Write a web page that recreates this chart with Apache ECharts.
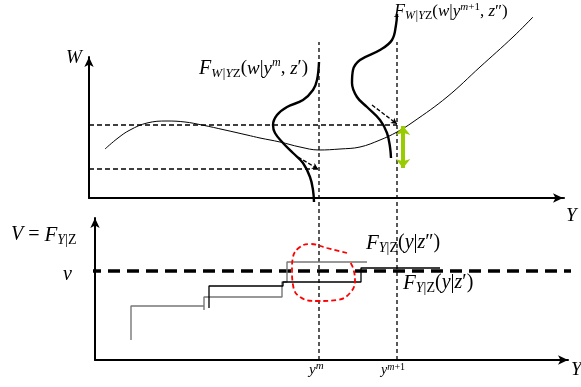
<!DOCTYPE html>
<html>
<head>
<meta charset="utf-8">
<script src="https://cdn.jsdelivr.net/npm/echarts@6/dist/echarts.min.js"></script>
<style>
html,body{margin:0;padding:0;background:#fff;}
#c{width:581px;height:387px;}
</style>
</head>
<body>
<div id="c"></div>
<script>
// ---- data (top panel: x = Y, y = W ; bottom panel: x = Y, y = V) ----
const yM = 230;            // y^m
const yM1 = 308;           // y^{m+1}
const wLow = 29;           // quantile w from F(w|y^m,z')
const wHigh = 73;          // quantile w from F(w|y^{m+1},z'')
const vLevel = 89;         // v
const regressionCurve = [[16,49],[29,60],[41,68],[58,75],[78,77],[96,76],[113,73],[136,68],[158,63],[171,60],[191,56],[211,51],[230,48],[251,49],[271,51],[291,58],[308,66],[324,76],[358,101],[391,131],[424,161],[444,181]];
const densityYm = [[230,136],[228,118],[224,108],[214,98],[198,91],[188,83],[184,73],[186,65],[194,55],[204,45],[214,35],[221,21],[224,8],[225,-4]];
const densityYm1 = [[308,184],[307,173],[303,158],[291,148],[271,138],[264,128],[263,115],[268,101],[278,91],[291,78],[298,65],[301,51],[302,40]];
const arrowYm = [[209,41],[229,29]];
const arrowYm1 = [[283,93],[308,74]];
const gapArrow = [[314,72],[314,30]];
const stepZpp = [[42,20],[42,54],[115,54],null,[115,50],[115,63],[193,63],[193,78],[198,78],[198,98],[278,98]];
const stepZp = [[120,52],[120,74],[194,74],[194,78],[272,78],[272,92],[351,92]];
const redLoop = [[258,107],[238,112],[221,116],[211,113],[204,103],[203,90],[204,75],[211,63],[228,59],[248,60],[261,67],[266,80],[264,92],[261,98]];
const verticalTop = 318;
const axisExt = [[474,0],[492,0]];

const serif = "'Liberation Serif','Times New Roman',serif";
const chart = echarts.init(document.getElementById('c'), null, {renderer:'canvas'});

function seg(pts){ return pts.map(p => p === null ? '-' : p); }
function lineS(idx, data, style, extra){
  return Object.assign({
    type:'line', xAxisIndex:idx, yAxisIndex:idx, data:data, symbol:'none',
    clip:false, silent:true, animation:false, connectNulls:false,
    lineStyle:Object.assign({color:'#000', width:1}, style)
  }, extra || {});
}
function arrowLine(idx, pts, style, sym, size){
  return {
    type:'line', xAxisIndex:idx, yAxisIndex:idx, data:[], silent:true, animation:false,
    markLine:{
      silent:true, animation:false, symbol:sym, symbolSize:size,
      label:{show:false}, emphasis:{disabled:true},
      lineStyle:Object.assign({color:'#000', width:1}, style),
      data:[[{coord:pts[0]},{coord:pts[1]}]]
    }
  };
}

const axisCommon = {
  axisTick:{show:false}, axisLabel:{show:false}, splitLine:{show:false}
};
const axisLine = {show:true, symbol:['none','arrow'], symbolSize:[7,10], lineStyle:{color:'#000', width:2}};

function mkRich(main, sub, sup){
  const lh = Math.round(main * 1.2);
  return {
    F:{fontFamily:serif, fontStyle:'italic', fontSize:main + 1, lineHeight:lh, verticalAlign:'middle', color:'#000'},
    m:{fontFamily:serif, fontSize:main, lineHeight:lh, verticalAlign:'middle', color:'#000'},
    mi:{fontFamily:serif, fontStyle:'italic', fontSize:main, lineHeight:lh, verticalAlign:'middle', color:'#000'},
    sub:{fontFamily:serif, fontStyle:'italic', fontSize:sub, lineHeight:sub, verticalAlign:'bottom', color:'#000'},
    subn:{fontFamily:serif, fontSize:sub, lineHeight:sub, verticalAlign:'bottom', color:'#000'},
    sup:{fontFamily:serif, fontStyle:'italic', fontSize:sup, lineHeight:sup, verticalAlign:'top', color:'#000'},
    supn:{fontFamily:serif, fontSize:sup, lineHeight:sup, verticalAlign:'top', color:'#000'}
  };
}
function rt(x, y, text, rich){
  return {type:'text', x:x, y:y, silent:true, style:{text:text, rich:rich, fill:'#000'}};
}

const option = {
  backgroundColor:'#fff',
  animation:false,
  grid:[
    {left:89, top:57, width:474, height:141, containLabel:false},
    {left:95, top:218, width:473, height:142, containLabel:false}
  ],
  xAxis:[
    Object.assign({type:'value', gridIndex:0, min:0, max:474, axisLine:axisLine}, axisCommon),
    Object.assign({type:'value', gridIndex:1, min:6, max:479, axisLine:axisLine}, axisCommon)
  ],
  yAxis:[
    Object.assign({type:'value', gridIndex:0, min:0, max:141, axisLine:axisLine}, axisCommon),
    Object.assign({type:'value', gridIndex:1, min:0, max:142, axisLine:axisLine}, axisCommon)
  ],
  series:[
    // vertical dashed lines through both panels
    lineS(1, [[yM,0],[yM,verticalTop]], {width:1.3, type:[4,3]}),
    lineS(1, [[yM1,0],[yM1,verticalTop]], {width:1.3, type:[4,3]}),
    // top panel
    lineS(0, axisExt, {width:1.3, type:[4,3]}),
    lineS(0, [[0,wHigh],[yM1,wHigh]], {width:1.3, type:[5,3]}),
    lineS(0, [[0,wLow],[yM,wLow]], {width:1.3, type:[5,3]}),
    lineS(0, regressionCurve, {width:1}, {smooth:0.4}),
    lineS(0, densityYm, {width:2.4}, {smooth:0.4}),
    lineS(0, densityYm1, {width:2.4}, {smooth:0.4}),
    arrowLine(0, arrowYm, {width:1.3, type:[4,2]}, ['none','arrow'], [5,6]),
    arrowLine(0, arrowYm1, {width:1.3, type:[4,2]}, ['none','arrow'], [5,6]),
    arrowLine(0, gapArrow, {width:4, color:'#99cc00', type:'solid'}, ['arrow','arrow'], [11,9]),
    // bottom panel
    lineS(1, [[0,vLevel],[492,vLevel]], {width:3.3, type:[12,7]}),
    lineS(1, seg(stepZpp), {width:1.4, color:'#777'}),
    lineS(1, stepZp, {width:1.3, color:'#000'}),
    lineS(1, redLoop, {width:1.8, color:'#ff0000', type:[5,3]}, {smooth:0.45})
  ],
  graphic:[
    rt(66, 46, '{mi|W}', mkRich(19, 13, 12)),
    rt(199, 57, '{F|F}{sub|W|Y}{subn|Z}{m|(}{mi|w}{m||}{mi|y}{sup|m}{m|, }{mi|z}{m|′)}', mkRich(19, 13, 12)),
    rt(394, 2, '{F|F}{sub|W|Y}{subn|Z}{m|(}{mi|w}{m||}{mi|y}{sup|m}{supn|+1}{m|, }{mi|z}{m|″)}', mkRich(17, 12, 11)),
    rt(566, 204, '{mi|Y}', mkRich(19, 13, 12)),
    rt(11, 223, '{mi|V}{m| = }{F|F}{sub|Y}{subn||Z}', mkRich(20, 14, 12)),
    rt(63, 263, '{mi|v}', mkRich(20, 14, 12)),
    rt(366, 231, '{F|F}{sub|Y}{subn||Z}{m|(}{mi|y}{m||}{mi|z}{m|″)}', mkRich(20, 14, 12)),
    rt(403, 271, '{F|F}{sub|Y}{subn||Z}{m|(}{mi|y}{m||}{mi|z}{m|′)}', mkRich(20, 14, 12)),
    rt(309, 361, '{mi|y}{sup|m}', mkRich(15, 11, 11)),
    rt(381, 362, '{mi|y}{sup|m}{supn|+1}', mkRich(14, 10, 10)),
    rt(571, 358, '{mi|Y}', mkRich(19, 13, 12))
  ]
};
chart.setOption(option);
</script>
</body>
</html>
